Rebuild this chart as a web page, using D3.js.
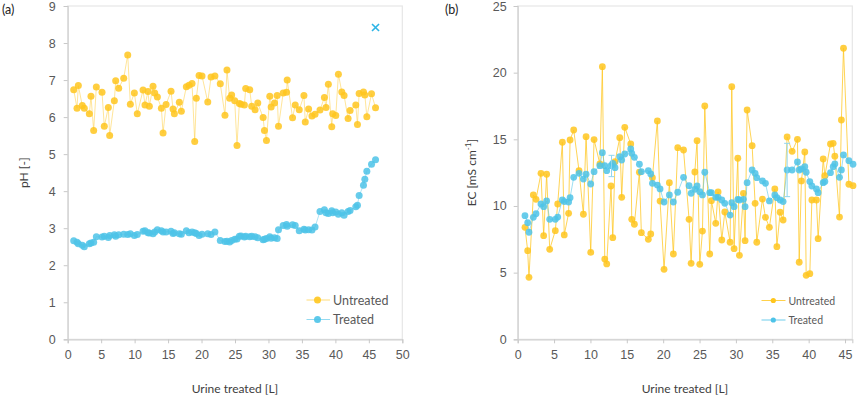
<!DOCTYPE html>
<html><head><meta charset="utf-8">
<script src="https://cdn.jsdelivr.net/npm/d3@7"></script>
<style>
body{margin:0;background:#fff;}
svg{display:block;font-family:Lato,"Noto Sans",sans-serif;}
</style></head>
<body><svg id="c" width="858" height="397"></svg>
<script>
// ---------- Panel (a): pH ----------
const phX = [0.9,1.39,1.59,2.18,2.48,3.23,3.48,3.88,4.28,5.13,5.47,6.07,6.27,6.97,7.17,7.62,8.37,8.97,9.36,9.96,10.4,11.26,11.55,12.0,12.2,12.75,13.0,13.4,14.0,14.25,14.7,15.44,15.74,15.94,16.68,16.98,17.73,18.13,18.58,18.98,19.22,19.63,20.07,20.93,21.42,22.0,22.8,23.5,23.8,24.2,24.5,24.96,25.3,25.65,25.9,26.4,26.6,27.2,27.5,28.0,28.4,29.2,29.4,29.7,30.2,30.4,30.9,31.3,31.5,32.2,32.7,32.8,33.6,34.0,34.6,35.3,35.5,36.0,36.5,36.96,37.7,38.36,38.6,38.95,39.46,39.6,40.06,40.45,40.96,41.3,41.9,42.2,43.05,43.3,43.55,44.2,44.4,44.7,45.4,46.0];
const phUntreated = [6.74,6.24,6.85,6.31,6.24,6.09,6.56,5.64,6.81,6.67,5.75,6.26,5.50,6.44,6.98,6.78,7.05,7.68,6.35,6.65,6.09,6.73,6.33,6.69,6.29,6.83,6.65,6.54,6.24,5.57,6.34,6.70,6.22,6.09,6.40,6.16,6.82,6.86,6.91,5.34,6.51,7.12,7.11,6.41,7.08,7.11,6.90,6.05,7.27,6.51,6.60,6.44,5.23,6.37,6.35,6.33,6.77,6.74,6.29,6.20,6.38,5.99,5.64,5.37,6.56,6.27,6.38,6.58,5.75,6.65,6.67,7.00,5.98,6.33,6.20,6.58,5.87,6.22,6.03,6.08,6.19,6.53,6.26,6.89,5.74,6.09,6.04,7.16,6.68,6.58,5.96,6.18,6.33,5.80,6.64,6.68,6.60,6.01,6.63,6.25];
const phTreated = [2.66,2.62,2.58,2.54,2.50,2.58,2.60,2.62,2.77,2.76,2.78,2.75,2.80,2.82,2.78,2.82,2.84,2.83,2.85,2.80,2.83,2.92,2.93,2.88,2.87,2.85,2.90,2.96,2.93,2.90,2.90,2.92,2.86,2.88,2.85,2.84,2.93,2.88,2.90,2.88,2.86,2.80,2.84,2.85,2.83,2.90,2.67,2.64,2.65,2.63,2.67,2.70,2.71,2.78,2.79,2.76,2.78,2.77,2.78,2.77,2.74,2.69,2.70,2.72,2.77,2.73,2.74,2.72,2.96,3.07,3.10,3.05,3.09,3.07,2.93,2.97,2.95,2.96,2.95,3.03,3.45,3.50,3.42,3.40,3.47,3.42,3.44,3.38,3.42,3.35,3.45,3.48,3.58,3.62,3.88,4.16,4.32,4.54,4.73,4.85];
const phOutlier = [{x:46.0, y:8.42}];
const phXTicks = [0,5,10,15,20,25,30,35,40,45,50];
const phYTicks = [0,1,2,3,4,5,6,7,8,9];

// ---------- Panel (b): EC ----------
const ecX = [1.0,1.37,1.55,2.15,2.52,3.2,3.57,3.98,4.4,5.17,5.5,6.14,6.4,7.0,7.2,7.7,8.43,9.03,9.4,10.04,10.5,11.3,11.64,11.97,12.24,12.83,13.07,13.38,14.03,14.3,14.72,15.54,15.68,16.04,16.73,17.0,17.96,18.29,18.52,19.2,19.57,20.12,20.85,21.4,22.0,22.8,23.56,23.84,24.35,24.66,25.03,25.4,25.72,26.4,26.63,27.23,27.55,28.06,28.47,29.2,29.43,29.75,30.26,30.48,31.03,31.26,31.54,32.23,32.64,32.87,33.65,34.06,34.6,35.35,35.63,36.08,36.49,37.04,37.73,38.46,38.7,39.0,39.47,39.66,40.16,40.44,41.07,41.3,42.0,42.23,43.0,43.37,43.6,44.24,44.5,44.79,45.53,46.1];
const ecUntreated = [8.40,6.65,4.65,10.83,10.5,12.45,7.77,12.38,6.75,8.15,10.15,14.78,7.83,9.45,14.95,15.7,12.65,9.38,15.2,6.52,14.98,13.15,20.45,6.02,5.65,11.5,7.62,13.32,15.12,10.65,15.9,14.65,9.0,8.63,12.53,8.0,7.5,7.9,12.12,16.38,10.37,5.25,11.75,6.4,14.37,14.2,9.0,5.7,12.55,14.9,5.62,8.12,17.5,6.4,10.4,8.7,11.05,7.45,9.55,7.28,18.95,6.8,13.58,6.3,10.95,7.4,17.2,14.52,10.2,7.28,10.52,9.15,8.4,11.28,6.95,9.53,8.95,15.18,14.1,15.0,5.78,11.88,14.05,4.8,4.92,10.45,10.45,7.55,13.53,12.27,14.65,14.7,13.73,9.17,16.45,21.83,11.63,11.52];
const ecTreated = [9.27,8.75,8.03,9.15,9.42,10.15,9.95,10.38,9.0,9.0,9.17,10.45,10.33,10.3,10.62,12.15,12.45,12.02,12.38,11.65,12.57,13.02,14.0,13.02,12.65,13.02,13.2,12.87,13.7,13.45,13.9,14.28,13.95,13.65,13.13,12.57,12.65,12.4,11.7,11.57,11.28,10.3,10.83,10.3,11.03,12.15,11.52,10.95,11.25,11.5,11.07,10.83,12.53,11.0,11.0,10.65,10.65,10.45,10.2,9.32,10.25,9.95,10.5,10.45,10.5,9.95,11.75,12.7,12.45,12.12,11.88,11.7,10.38,10.83,10.62,10.45,10.33,12.7,12.7,13.3,12.7,12.78,12.95,12.53,11.83,11.5,11.28,11.0,11.75,11.83,12.5,12.95,13.15,12.15,12.7,13.83,13.4,13.13];
const ecErrorBars = [{x:12.9, lo:12.2, hi:13.8},{x:37.04, lo:10.7, hi:14.7}];
const ecXTicks = [0,5,10,15,20,25,30,35,40,45];
const ecYTicks = [0,5,10,15,20,25];

const seriesNames = ["Untreated","Treated"];

const YEL = "#FFC61E", BLU = "#4DC3E8";
const svg = d3.select("#c");

function panel(opt){
  const g = svg.append("g");
  const x = d3.scaleLinear().domain(opt.xDomain).range(opt.xRange);
  const y = d3.scaleLinear().domain(opt.yDomain).range(opt.yRange);
  g.append("rect").attr("x",opt.xRange[0]).attr("y",opt.yRange[1])
    .attr("width",opt.xRange[1]-opt.xRange[0]).attr("height",opt.yRange[0]-opt.yRange[1])
    .attr("fill","none").attr("stroke","#e6e6e6").attr("stroke-width",1.2);
  const ax = g.append("g").attr("transform",`translate(0,${opt.yRange[0]})`)
    .call(d3.axisBottom(x).tickValues(opt.xTicks).tickSizeOuter(0).tickSize(4).tickPadding(7));
  const ay = g.append("g").attr("transform",`translate(${opt.xRange[0]},0)`)
    .call(d3.axisLeft(y).tickValues(opt.yTicks).tickSizeOuter(0).tickSize(4).tickPadding(opt.yPad));
  [ax,ay].forEach(a=>{
    a.select(".domain").attr("stroke","#d0d0d0").attr("stroke-width",1.2);
    a.selectAll(".tick line").attr("stroke","#c8c8c8");
    a.selectAll(".tick text").attr("fill","#595959").style("font-size","12.5px");
  });
  g.append("text").attr("x",(opt.xRange[0]+opt.xRange[1])/2).attr("y",393)
    .attr("text-anchor","middle").attr("fill","#404040").style("font-size","12px").text("Urine treated [L]");
  const yt = g.append("text").attr("transform",`translate(${opt.yTitleX},${(opt.yRange[0]+opt.yRange[1])/2}) rotate(-90)`)
    .attr("text-anchor","middle").attr("fill","#404040").style("font-size","12px");
  opt.yTitle(yt);
  g.append("text").attr("x",opt.panelX).attr("y",14).attr("fill","#222").style("font-size","12.5px").text(opt.panelLabel);

  const line = d3.line().x(d=>x(d[0])).y(d=>y(d[1]));
  const sets = [
    {vals:opt.untreated, col:YEL, lo:opt.lineOpU},
    {vals:opt.treated, col:BLU, lo:opt.lineOpT}
  ];
  sets.forEach(s=>{
    const pts = opt.xs.map((xv,i)=>[xv,s.vals[i]]);
    g.append("path").datum(pts).attr("d",line).attr("fill","none")
      .attr("stroke",s.col).attr("stroke-width",1).attr("opacity",s.lo);
    g.append("g").selectAll("circle").data(pts).join("circle")
      .attr("cx",d=>x(d[0])).attr("cy",d=>y(d[1])).attr("r",opt.r)
      .attr("fill",s.col).attr("opacity",0.85);
  });
  return {g,x,y};
}

const A = panel({xDomain:[0,50], xRange:[67.7,402.3], yDomain:[0,9], yRange:[339.3,6],
  xTicks:phXTicks, yTicks:phYTicks, yPad:8, yTitleX:28, panelX:2, panelLabel:"(a)",
  yTitle:t=>t.text("pH [-]"), xs:phX, untreated:phUntreated, treated:phTreated,
  r:3.5, lineOpU:0.45, lineOpT:0.45});
A.g.selectAll(".outlier").data(phOutlier).join("path").attr("class","outlier")
  .attr("d",d=>{const cx=A.x(d.x), cy=A.y(d.y), s=3.5; return `M${cx-s},${cy-s}L${cx+s},${cy+s}M${cx-s},${cy+s}L${cx+s},${cy-s}`;})
  .attr("stroke","#2CB4E6").attr("stroke-width",1.6).attr("fill","none");
const legA = A.g.append("g");
seriesNames.forEach((n,i)=>{
  const yy = 300 + i*19.5, col = i===0?YEL:BLU;
  legA.append("line").attr("x1",306.5).attr("x2",330).attr("y1",yy).attr("y2",yy).attr("stroke",col).attr("opacity",0.6);
  legA.append("circle").attr("cx",317.5).attr("cy",yy).attr("r",3.5).attr("fill",col).attr("opacity",0.9);
  legA.append("text").attr("x",333).attr("y",yy+4.5).attr("fill","#595959").style("font-size","12.5px").text(n);
});

const B = panel({xDomain:[0,46], xRange:[517.7,852.3], yDomain:[0,25], yRange:[339.3,6],
  xTicks:ecXTicks, yTicks:ecYTicks, yPad:7, yTitleX:476, panelX:445, panelLabel:"(b)",
  yTitle:t=>{t.text("EC [mS cm"); t.append("tspan").attr("baseline-shift","super").style("font-size","8px").text("-1"); t.append("tspan").text("]");},
  xs:ecX, untreated:ecUntreated, treated:ecTreated, r:3.4, lineOpU:0.75, lineOpT:0.55});
const eb = B.g.append("g").attr("stroke","#8fd6ef").attr("stroke-width",1).attr("fill","none");
ecErrorBars.forEach(e=>{
  const cx=B.x(e.x);
  eb.append("line").attr("x1",cx).attr("x2",cx).attr("y1",B.y(e.lo)).attr("y2",B.y(e.hi));
  eb.append("line").attr("x1",cx-3).attr("x2",cx+3).attr("y1",B.y(e.lo)).attr("y2",B.y(e.lo));
  eb.append("line").attr("x1",cx-3).attr("x2",cx+3).attr("y1",B.y(e.hi)).attr("y2",B.y(e.hi));
});
const legB = B.g.append("g");
seriesNames.forEach((n,i)=>{
  const yy = 300.5 + i*19.5, col = i===0?YEL:BLU;
  legB.append("line").attr("x1",761.5).attr("x2",785.5).attr("y1",yy).attr("y2",yy).attr("stroke",col).attr("opacity",0.8);
  legB.append("circle").attr("cx",773.3).attr("cy",yy).attr("r",2.6).attr("fill",col);
  legB.append("text").attr("x",788.5).attr("y",yy+4).attr("fill","#595959").style("font-size","10.5px").text(n);
});
</script></body></html>
